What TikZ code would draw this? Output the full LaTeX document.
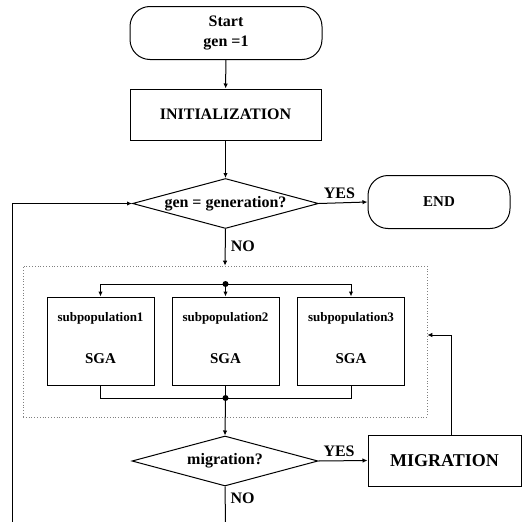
\documentclass[tikz,border=0pt]{standalone}
\usepackage{fontspec}
\setmainfont{Liberation Serif}
\usetikzlibrary{shapes.geometric,arrows.meta}

\newcommand{\fsz}[1]{\fontsize{#1}{#1}\selectfont}

\begin{document}
\begin{tikzpicture}[x=1pt,y=-1pt,
    line width=1pt, >={Latex[length=5pt,width=4.5pt]},
    every node/.style={inner sep=0pt,font=\bfseries\fsz{16}},
    term/.style={draw,rounded corners=20pt,minimum height=53pt,minimum width=#1,align=center},
    procbox/.style={draw,minimum height=51pt,minimum width=#1},
    decide/.style={draw,diamond,shape aspect=4,minimum width=186pt,minimum height=50pt},
    subbox/.style={draw,minimum width=107pt,minimum height=88pt,align=center},
    islandbox/.style={draw=gray,line width=0.6pt,dash pattern=on 0.8pt off 2pt,
        minimum width=404pt,minimum height=151pt},
    lbl/.style={font=\bfseries\fsz{16}}]

\useasboundingbox (0,0) rectangle (522,522);

% Main line
\node[term=192pt] (start) at (226,33) {Start\\[4pt]gen =1};
\node[procbox=191pt] (init) at (225.5,114.5) {INITIALIZATION};
\node[decide] (gencheck) at (225.5,203.5) {\makebox[0pt]{gen = generation?}};
\node[term=142pt,font=\bfseries\fsz{15}] (finish) at (439,202) {END};

\draw[->] (start) -- (init);
\draw[->] (init) -- (gencheck);
\draw[->] (gencheck.east) -- node[lbl,pos=0.42,above=4pt] {YES} (finish.west);

%========================
% Island model (3 subpopulations)
%========================
\node[islandbox] (island) at (225,341.5) {};
\draw[->] (gencheck.south) -- node[lbl,right=5pt,pos=0.47] {NO} (island.north);

\node[subbox] (sub1) at (100.5,341) {{\fsz{13}subpopulation1}\\[26pt]{\fsz{15}SGA}\rule[-7pt]{0pt}{7pt}};
\node[subbox] (sub2) at (225.5,341) {{\fsz{13}subpopulation2}\\[26pt]{\fsz{15}SGA}\rule[-7pt]{0pt}{7pt}};
\node[subbox] (sub3) at (351,341) {{\fsz{13}subpopulation3}\\[26pt]{\fsz{15}SGA}\rule[-7pt]{0pt}{7pt}};

\coordinate (split) at (225.5,284);
\coordinate (merge) at (225.5,398);
\fill (split) circle (3pt);
\fill (merge) circle (3pt);

% Split
\draw[->] (split) -| (sub1.north);
\draw[->] (split) -- (sub2.north);
\draw[->] (split) -| (sub3.north);

% Merge
\draw (sub1.south) |- (merge);
\draw (sub2.south) -- (merge);
\draw (sub3.south) |- (merge);

%========================
% Migration
%========================
\node[decide] (migcheck) at (225,461) {\makebox[0pt]{\fsz{16}migration?}};
\node[procbox=153pt,font=\bfseries\fsz{18}] (migrate) at (444.5,460.5) {MIGRATION};

\draw[->] (merge) -- (migcheck.north);
\draw[->] (migcheck.east) -- node[lbl,pos=0.42,above=4pt] {YES} (migrate.west);
\draw[->] ([xshift=6.5pt]migrate.north) |- ([yshift=6.5pt]island.east);

% Back to the generation check
\coordinate (nobottom) at (225.5,522);
\coordinate (loopbottom) at (12,522);
\draw (migcheck.south) -- node[lbl,right=5pt,pos=0.33] {NO} (nobottom);
\draw[->] (loopbottom) |- (gencheck.west);

\end{tikzpicture}
\end{document}
